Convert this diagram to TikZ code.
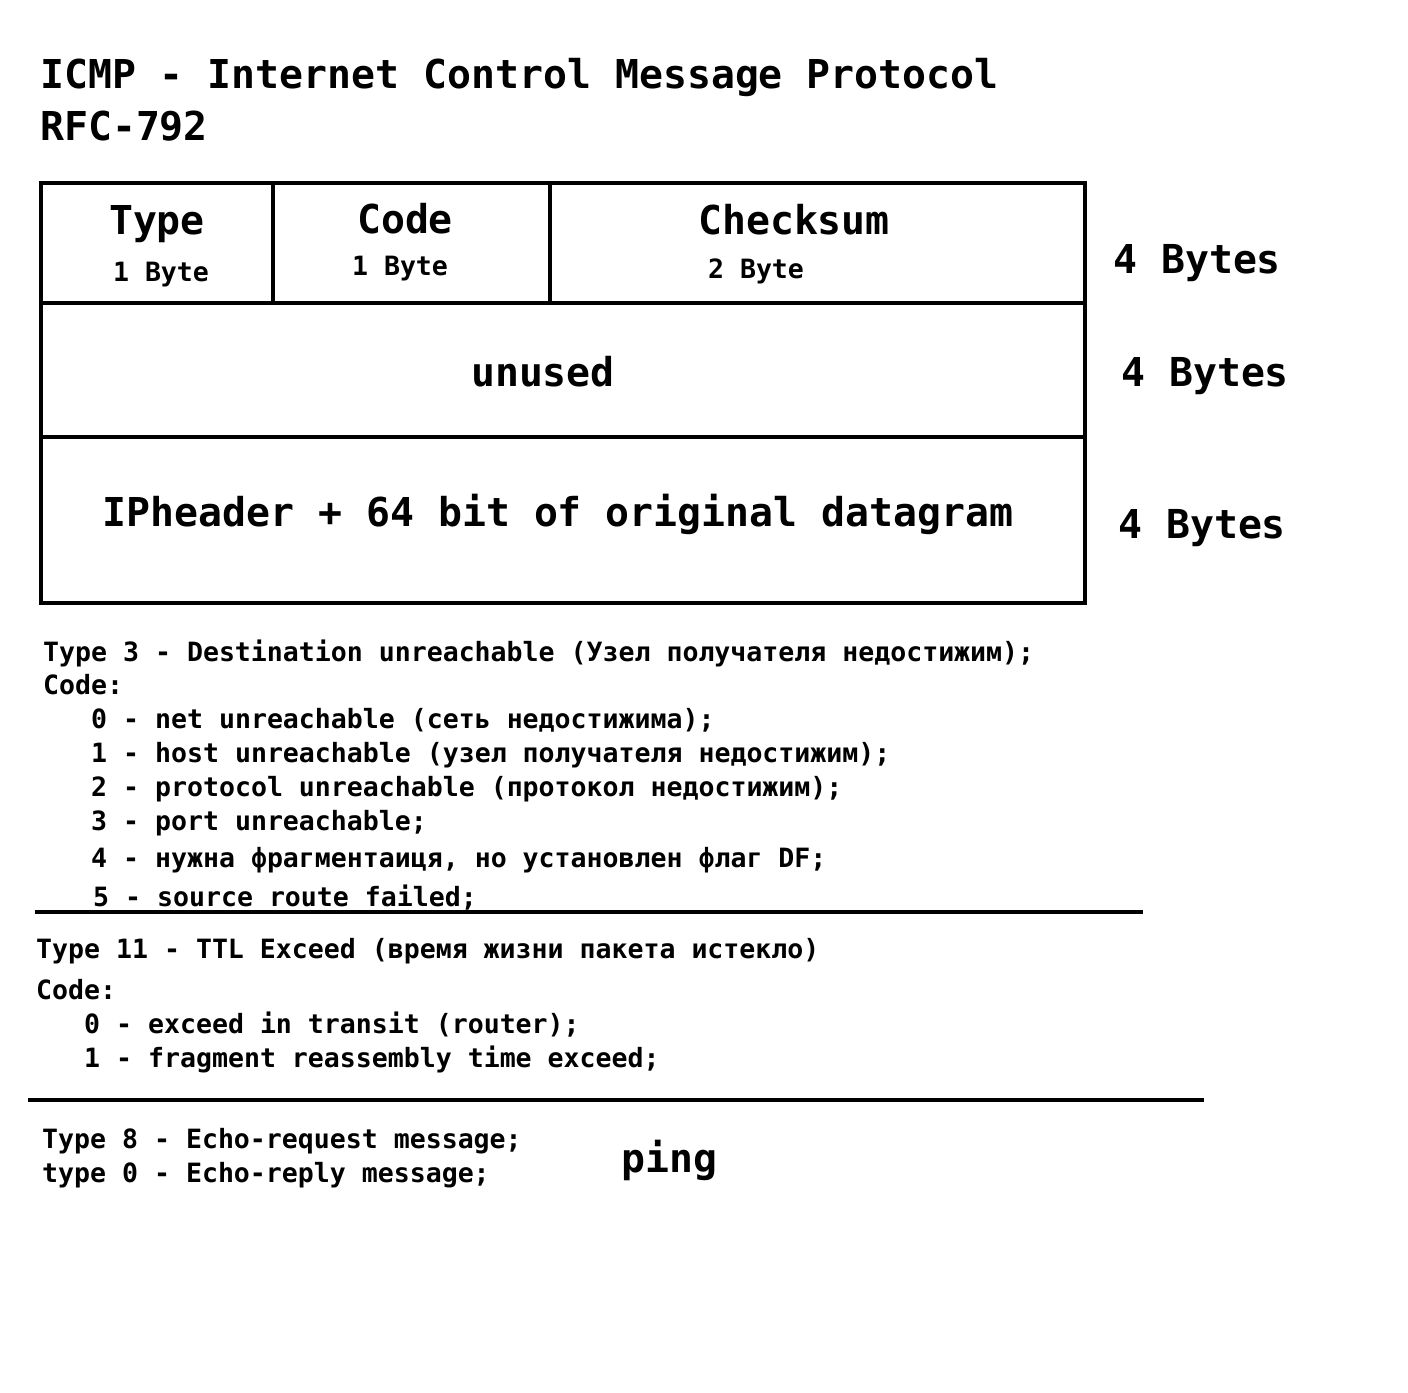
\documentclass[tikz,border=0pt]{standalone}
\usepackage{fontspec}
\setmainfont{DejaVu Sans Mono}[BoldFont={DejaVu Sans Mono Bold}]
\newfontfamily\monob{DejaVu Sans Mono Bold}
\begin{document}
\begin{tikzpicture}[x=1pt,y=-1pt,
  big/.style={inner sep=0pt,font=\monob\fontsize{39.8}{48}\selectfont},
  small/.style={inner sep=0pt,font=\monob\fontsize{26.55}{32}\selectfont},
  frame/.style={line width=4.5pt},
  rule/.style={line width=4.5pt}]
\useasboundingbox (0,0) rectangle (1408,1392);
% title
\node[big,anchor=base west] (t1) at (40,88) {ICMP - Internet Control Message Protocol};
\node[big,anchor=base west] (t2) at (40,140) {RFC-792};
% header box
\draw[frame] (41,183) rectangle (1085,603);
\draw[frame] (41,303) -- (1085,303);
\draw[frame] (41,437) -- (1085,437);
\draw[frame] (273,183) -- (273,303);
\draw[frame] (550,183) -- (550,303);
\node[big,anchor=base] (type) at (157,234) {Type};
\node[small,anchor=base] (typeb) at (161,281) {1 Byte};
\node[big,anchor=base] (code) at (405,233) {Code};
\node[small,anchor=base] (codeb) at (400,275) {1 Byte};
\node[big,anchor=base] (cks) at (794,234) {Checksum};
\node[small,anchor=base] (cksb) at (756,278) {2 Byte};
\node[big,anchor=base] (unused) at (543,386) {unused};
\node[big,anchor=base] (iph) at (558,526) {IPheader + 64 bit of original datagram};
\node[big,anchor=base west] (b1) at (1113,273) {4 Bytes};
\node[big,anchor=base west] (b2) at (1121,386) {4 Bytes};
\node[big,anchor=base west] (b3) at (1118,538) {4 Bytes};
% type 3
\node[small,anchor=base west] (l1) at (43,661) {Type 3 - Destination unreachable (Узел получателя недостижим);};
\node[small,anchor=base west] (l2) at (43,694) {Code:};
\node[small,anchor=base west] (l3) at (91,728) {0 - net unreachable (сеть недостижима);};
\node[small,anchor=base west] (l4) at (91,762) {1 - host unreachable (узел получателя недостижим);};
\node[small,anchor=base west] (l5) at (91,796) {2 - protocol unreachable (протокол недостижим);};
\node[small,anchor=base west] (l6) at (91,830) {3 - port unreachable;};
\node[small,anchor=base west] (l7) at (91,867) {4 - нужна фрагментаиця, но установлен флаг DF;};
\node[small,anchor=base west] (l8) at (93,906) {5 - source route failed;};
\coordinate (r1a) at (35,912);
\coordinate (r1b) at (1143,912);
\draw[rule] (r1a) -- (r1b);
% type 11
\node[small,anchor=base west] (m1) at (36,958) {Type 11 - TTL Exceed (время жизни пакета истекло)};
\node[small,anchor=base west] (m2) at (36,999) {Code:};
\node[small,anchor=base west] (m3) at (84,1033) {0 - exceed in transit (router);};
\node[small,anchor=base west] (m4) at (84,1067) {1 - fragment reassembly time exceed;};
\coordinate (r2a) at (28,1100);
\coordinate (r2b) at (1204,1100);
\draw[rule] (r2a) -- (r2b);
% echo
\node[small,anchor=base west] (e1) at (42,1148) {Type 8 - Echo-request message;};
\node[small,anchor=base west] (e2) at (42,1182) {type 0 - Echo-reply message;};
\node[big,anchor=base west] (ping) at (621,1172) {ping};
\end{tikzpicture}
\end{document}
